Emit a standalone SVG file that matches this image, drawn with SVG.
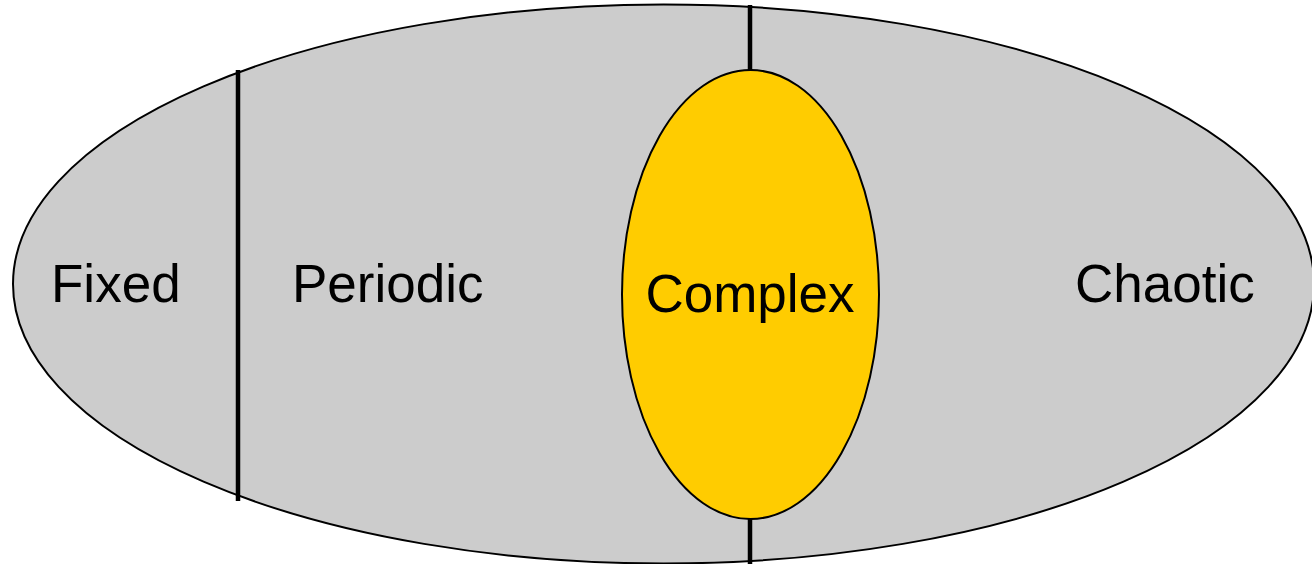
<svg xmlns="http://www.w3.org/2000/svg" width="1312" height="564" viewBox="0 0 1312 564">
<style>
.lbl{font-family:"Liberation Sans",Arial,sans-serif;font-size:53px;fill:#000}
.div{stroke:#000;stroke-width:4.5;fill:none}
</style>
<rect width="1312" height="564" fill="#fff"/>
<g id="space">
<ellipse cx="663.5" cy="284" rx="650.5" ry="279.5" fill="#cccccc" stroke="#000" stroke-width="2"/>
</g>
<g id="connectors">
<line class="div" x1="238" y1="70" x2="238" y2="501"/>
<line class="div" x1="750" y1="5" x2="750" y2="564"/>
</g>
<g id="complex">
<ellipse cx="750.5" cy="294.5" rx="128.5" ry="224.5" fill="#ffcc00" stroke="#000" stroke-width="2"/>
<text class="lbl" x="750" y="312" text-anchor="middle">Complex</text>
</g>
<g id="fixed"><text class="lbl" x="51" y="302">Fixed</text></g>
<g id="periodic"><text class="lbl" x="292" y="302">Periodic</text></g>
<g id="chaotic"><text class="lbl" x="1075" y="302">Chaotic</text></g>
</svg>
